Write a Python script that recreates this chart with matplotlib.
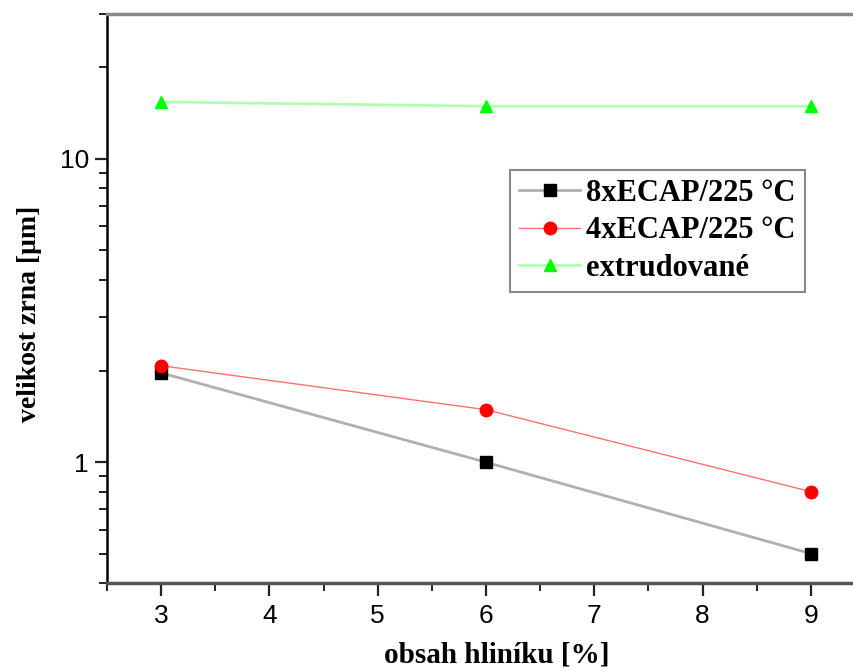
import matplotlib.pyplot as plt
from matplotlib import ticker

# obsah hliniku [%]
aluminium = [3, 6, 9]
# velikost zrna [um]
ecap8 = [1.97, 1.0, 0.5]
ecap4 = [2.08, 1.49, 0.80]
extruded = [15.4, 14.9, 14.9]
labels = ["8xECAP/225 °C", "4xECAP/225 °C", "extrudované"]

fig = plt.figure(figsize=(8.54, 6.71), dpi=100)
# the right side of the frame is cut off in the original
ax = fig.add_axes([107 / 854, 1 - 583 / 671, 758 / 854, 569 / 671])

ax.plot(aluminium, ecap8, color="#b0b0b0", lw=2, marker="s", ms=8,
        mfc="black", mec="black", label=labels[0])
ax.plot(aluminium, ecap4, color="#ff7070", lw=1, marker="o", ms=9,
        mfc="red", mec="red", label=labels[1])
ax.plot(aluminium, extruded, color="#b0ffb0", lw=2, marker="^", ms=9,
        mfc="#00ff00", mec="#00ff00", label=labels[2])

ax.set_yscale("log")
ax.set_ylim(0.4, 30)
ax.set_xlim(2.5, 9.5)

ax.xaxis.set_major_locator(ticker.MultipleLocator(1))
ax.xaxis.set_minor_locator(ticker.MultipleLocator(0.5))
ax.yaxis.set_major_formatter(ticker.FuncFormatter(lambda v, _: f"{v:g}"))
ax.yaxis.set_minor_formatter(ticker.NullFormatter())

ax.tick_params(which="major", direction="out", length=9, width=1.6,
               color="#222222", labelsize=19, pad=4)
ax.tick_params(axis="x", which="major", pad=6)
ax.tick_params(which="minor", direction="out", length=6, width=1.4,
               color="#222222")
ax.tick_params(right=False, top=False, which="both")
for lab in ax.get_xticklabels() + ax.get_yticklabels():
    lab.set_family("Liberation Sans")

ax.spines["left"].set_color("black")
ax.spines["left"].set_linewidth(1.8)
ax.spines["bottom"].set_color("#555555")
ax.spines["bottom"].set_linewidth(2.5)
ax.spines["top"].set_color("#888888")
ax.spines["top"].set_linewidth(2.5)

ax.set_xlabel("obsah hliníku [%]", family="Liberation Serif",
              fontweight="bold", fontsize=21)
ax.set_ylabel("velikost zrna [μm]", family="Liberation Serif",
              fontweight="bold", fontsize=20)
ax.xaxis.set_label_coords((497 - 107) / 758, -(641 - 583) / 569)
ax.yaxis.set_label_coords(-(107 - 42) / 758, (583 - 314) / 569)

leg = ax.legend(loc="upper left", bbox_to_anchor=((510 - 107) / 758, (583 - 170) / 569),
                prop={"family": "Liberation Serif", "weight": "bold", "size": 22},
                frameon=True, fancybox=False, edgecolor="#888888", framealpha=1,
                handlelength=2.0, handletextpad=0.2, labelspacing=0.27,
                borderpad=0.3, borderaxespad=0)
leg.get_frame().set_linewidth(1.5)

fig.savefig("out.png", dpi=100)
